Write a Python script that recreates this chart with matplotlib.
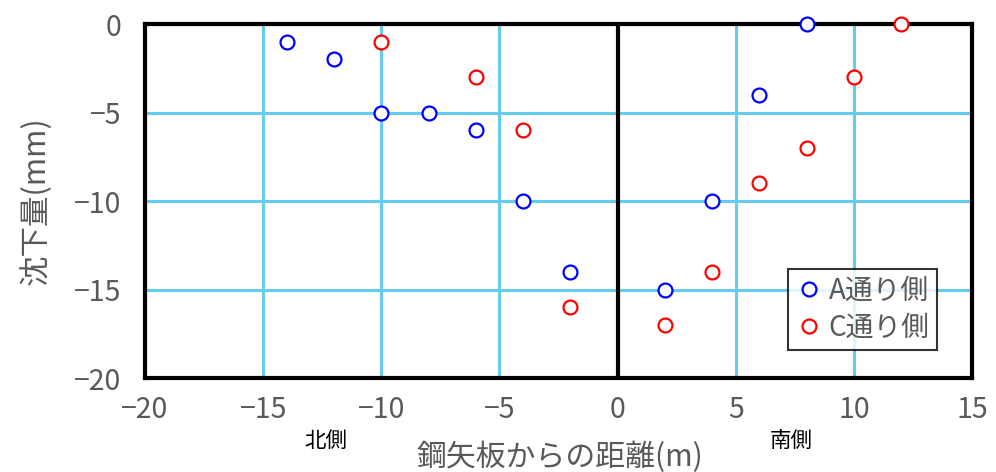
import matplotlib.pyplot as plt

plt.rcParams['font.family'] = ['Noto Sans CJK JP', 'DejaVu Sans']

# A通り側
a_x = [-14, -12, -10, -8, -6, -4, -2, 2, 4, 6, 8]
a_y = [-1, -2, -5, -5, -6, -10, -14, -15, -10, -4, 0]
# C通り側
c_x = [-10, -6, -4, -2, 2, 4, 6, 8, 10, 12]
c_y = [-1, -3, -6, -16, -17, -14, -9, -7, -3, 0]

x_ticks = [-20, -15, -10, -5, 0, 5, 10, 15]
y_ticks = [-20, -15, -10, -5, 0]

GRAY = '#595959'
GRID = '#66CCEE'

fig = plt.figure(figsize=(9.96, 4.72), dpi=100)
ax = fig.add_axes([0.1456, 0.199, 0.8304, 0.750])

ax.set_xlim(-20, 15)
ax.set_ylim(-20, 0)
ax.set_xticks(x_ticks)
ax.set_yticks(y_ticks)
ax.grid(True, color=GRID, linewidth=2.2, zorder=0)
ax.axvline(0, color='black', linewidth=3, zorder=3)

ax.plot(a_x, a_y, 'o', mfc='white', mec='blue', mew=1.6, ms=10,
        label='A通り側', clip_on=False, zorder=5)
ax.plot(c_x, c_y, 'o', mfc='white', mec='red', mew=1.6, ms=10,
        label='C通り側', clip_on=False, zorder=5)

for s in ax.spines.values():
    s.set_linewidth(3)
    s.set_color('black')

ax.tick_params(length=0, labelsize=20.5, labelcolor=GRAY)
ax.tick_params(axis='y', pad=17)
ax.tick_params(axis='x', pad=12)
ax.set_xticklabels(['−20', '−15', '−10', '−5', '0', '5', '10', '15'])
ax.set_yticklabels(['−20', '−15', '−10', '−5', '0'])

ax.set_ylabel('沈下量(mm)', fontsize=22, color=GRAY)
ax.yaxis.set_label_coords(-0.113, 0.5)

fig.text(0.562, 0.032, '鋼矢板からの距離(m)', fontsize=21.5, color=GRAY,
         ha='center', va='center')
fig.text(0.327, 0.066, '北側', fontsize=15.5, color='black', ha='center', va='center')
fig.text(0.794, 0.066, '南側', fontsize=15.5, color='black', ha='center', va='center')

leg = ax.legend(loc='lower right', bbox_to_anchor=(0.957, 0.08), fontsize=20,
                frameon=True, fancybox=False, handletextpad=0.2,
                handlelength=1.0, borderpad=0.25, labelspacing=0.25, borderaxespad=0)
leg.get_frame().set_edgecolor('black')
leg.get_frame().set_linewidth(1.5)
for t in leg.get_texts():
    t.set_color(GRAY)

fig.savefig('out.png', dpi=100)
